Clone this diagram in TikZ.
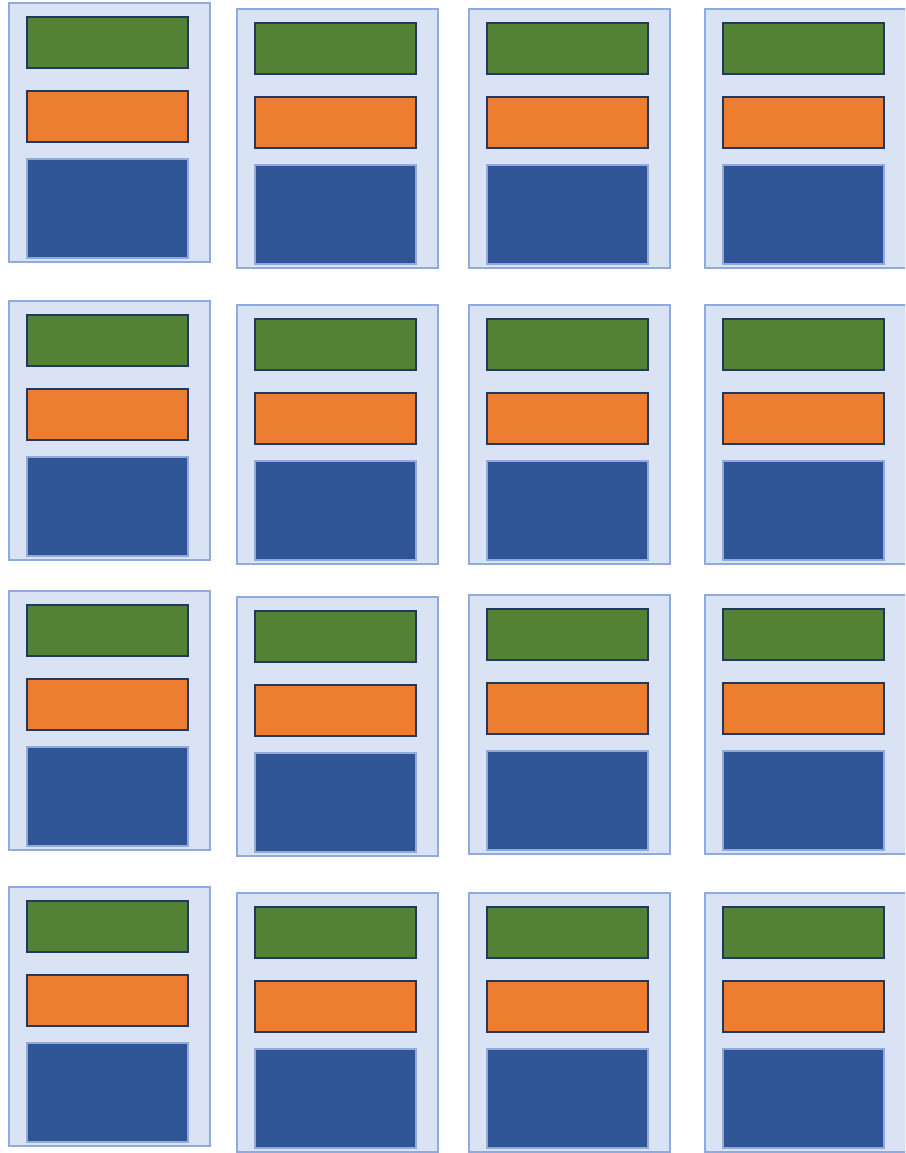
\documentclass[tikz,border=0pt]{standalone}
\usepackage{xcolor}
\usepackage{tikz}
\usetikzlibrary{positioning}

\definecolor{cardfill}{HTML}{DAE3F3}
\definecolor{cardline}{HTML}{8FAADC}
\definecolor{navyline}{HTML}{1F3864}
\definecolor{bargreen}{HTML}{548235}
\definecolor{barorange}{HTML}{ED7D31}
\definecolor{barblue}{HTML}{2F5597}

\tikzset{
  cardbox/.style   = {draw=cardline, fill=cardfill, line width=2pt, inner sep=0pt,
                      minimum width=201pt, minimum height=259pt, anchor=north west},
  greenbar/.style  = {draw=navyline, fill=bargreen, line width=2pt, inner sep=0pt,
                      minimum width=161pt, minimum height=51pt},
  orangebar/.style = {draw=navyline, fill=barorange, line width=2pt, inner sep=0pt,
                      minimum width=161pt, minimum height=51pt},
  bluebar/.style   = {draw=cardline, fill=barblue, line width=2pt, inner sep=0pt,
                      minimum width=161pt, minimum height=99pt}
}

% one card: name, left edge, top edge
\newcommand{\slidecard}[3]{%
  \node[cardbox] (#1) at (#2, #3) {};
  \node[greenbar, below right=14pt and 18pt of #1.north west] (#1-g) {};
  \node[orangebar, below=21pt of #1-g] (#1-o) {};
  \node[bluebar, below=15pt of #1-o] (#1-b) {};
}

\begin{document}
\begin{tikzpicture}[x=1pt, y=-1pt]

    \useasboundingbox (0, 0) rectangle (905, 1153);
    \clip (0, 0) rectangle (905, 1153);

    % ── Row 1 ────────────────────────────────────────────────────────────
    \slidecard{cardA1}{8}{2}
    \slidecard{cardA2}{236}{8}
    \slidecard{cardA3}{468}{8}
    \slidecard{cardA4}{704}{8}

    % ── Row 2 ────────────────────────────────────────────────────────────
    \slidecard{cardB1}{8}{300}
    \slidecard{cardB2}{236}{304}
    \slidecard{cardB3}{468}{304}
    \slidecard{cardB4}{704}{304}

    % ── Row 3 ────────────────────────────────────────────────────────────
    \slidecard{cardC1}{8}{590}
    \slidecard{cardC2}{236}{596}
    \slidecard{cardC3}{468}{594}
    \slidecard{cardC4}{704}{594}

    % ── Row 4 ────────────────────────────────────────────────────────────
    \slidecard{cardD1}{8}{886}
    \slidecard{cardD2}{236}{892}
    \slidecard{cardD3}{468}{892}
    \slidecard{cardD4}{704}{892}

\end{tikzpicture}
\end{document}
